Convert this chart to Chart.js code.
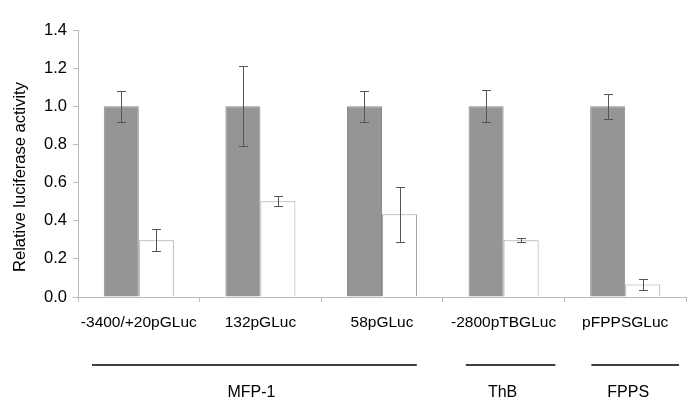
<!DOCTYPE html>
<html><head><meta charset="utf-8">
<script src="https://cdn.jsdelivr.net/npm/chart.js@4"></script>
<style>html,body{margin:0;padding:0;background:#fff}canvas{display:block}</style>
</head><body>
<canvas id="c" width="694" height="414"></canvas>
<script>
const categories = ['-3400/+20pGLuc','132pGLuc','58pGLuc','-2800pTBGLuc','pFPPSGLuc'];
const controlValues = [1.0, 1.0, 1.0, 1.0, 1.0];
const controlErrors = [0.08, 0.21, 0.08, 0.085, 0.067];
const treatedValues = [0.298, 0.502, 0.434, 0.298, 0.065];
const treatedErrors = [0.058, 0.027, 0.145, 0.01, 0.027];
const groupNames = ['MFP-1','ThB','FPPS'];
const groupFirst = [0, 3, 4];
const groupLast = [2, 3, 4];
const yTitle = 'Relative luciferase activity';

const FONT = 'Arial, "Liberation Sans", sans-serif';

const customPlugin = {
  id: 'custom',
  afterDatasetsDraw(chart) {
    const ctx = chart.ctx, y = chart.scales.y;
    const errs = [controlErrors, treatedErrors];
    ctx.save();
    ctx.strokeStyle = '#555';
    ctx.lineWidth = 1;
    chart.data.datasets.forEach((ds, di) => {
      chart.getDatasetMeta(di).data.forEach((bar, i) => {
        const v = ds.data[i], e = errs[di][i];
        const x = Math.round(bar.x) + 0.5;
        const yt = Math.round(y.getPixelForValue(v + e)) + 0.5;
        const yb = Math.round(y.getPixelForValue(v - e)) + 0.5;
        ctx.beginPath();
        ctx.moveTo(x, yt); ctx.lineTo(x, yb);
        ctx.moveTo(x - 4.5, yt); ctx.lineTo(x + 4.5, yt);
        ctx.moveTo(x - 4.5, yb); ctx.lineTo(x + 4.5, yb);
        ctx.stroke();
      });
    });
    ctx.restore();
  },
  afterDraw(chart) {
    const ctx = chart.ctx, xs = chart.scales.x;
    ctx.save();
    ctx.fillStyle = '#000';
    ctx.font = '16.5px ' + FONT;
    ctx.textAlign = 'center';
    ctx.textBaseline = 'middle';
    ctx.save();
    ctx.translate(20, 177);
    ctx.rotate(-Math.PI / 2);
    ctx.fillText(yTitle, 0, 0);
    ctx.restore();
    // group brackets under the category labels
    const insetL = [14, 23, 27], insetR = [26, 9, 7], labelShift = [-9, -1, 3];
    ctx.strokeStyle = '#000';
    ctx.lineWidth = 1.3;
    ctx.font = '16px ' + FONT;
    groupNames.forEach((g, i) => {
      const x0 = xs.getPixelForValue(groupFirst[i] - 0.5) + insetL[i];
      const x1 = xs.getPixelForValue(groupLast[i] + 0.5) - insetR[i];
      ctx.beginPath();
      ctx.moveTo(x0, 365); ctx.lineTo(x1, 365);
      ctx.stroke();
      const cx = xs.getPixelForValue((groupFirst[i] + groupLast[i]) / 2) + labelShift[i];
      ctx.fillText(g, cx, 393);
    });
    ctx.restore();
  }
};

new Chart(document.getElementById('c'), {
  type: 'bar',
  data: {
    labels: categories,
    datasets: [
      { data: controlValues, backgroundColor: '#959595', borderColor: '#8a8a8a', borderWidth: 1,
        categoryPercentage: 0.576, barPercentage: 1.0 },
      { data: treatedValues, backgroundColor: '#ffffff', borderColor: '#a4a4a4', borderWidth: 1,
        categoryPercentage: 0.576, barPercentage: 1.0 }
    ]
  },
  options: {
    responsive: false,
    devicePixelRatio: 1,
    animation: false,
    layout: { padding: { top: 30, right: 8, left: 0, bottom: 0 } },
    plugins: { legend: { display: false }, tooltip: { enabled: false } },
    scales: {
      x: {
        grid: { display: true, drawOnChartArea: false, drawTicks: true, tickLength: 5, color: '#bcbcbc', offset: true },
        border: { display: true, color: '#bcbcbc' },
        ticks: { color: '#000', font: { family: FONT, size: 15.5 }, padding: 11, maxRotation: 0, autoSkip: false },
        afterFit(s) { s.height = 117; }
      },
      y: {
        min: 0, max: 1.4,
        grid: { display: true, drawOnChartArea: false, drawTicks: true, tickLength: 5, color: '#bcbcbc' },
        border: { display: true, color: '#bcbcbc' },
        ticks: { stepSize: 0.2, color: '#000', font: { family: FONT, size: 16.5 }, padding: 6,
                 callback: v => Number(v).toFixed(1) },
        afterFit(s) { s.width = 78; }
      }
    }
  },
  plugins: [customPlugin]
});
</script>
</body></html>
